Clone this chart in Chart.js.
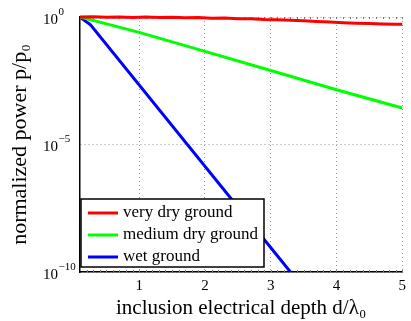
<!DOCTYPE html>
<html>
<head>
<meta charset="utf-8">
<script src="https://cdn.jsdelivr.net/npm/chart.js@4.4.1/dist/chart.umd.min.js"></script>
<style>
  html, body { margin: 0; padding: 0; background: #fff; }
  #wrap { width: 411px; height: 321px; position: relative; }
</style>
</head>
<body>
<div id="wrap"><canvas id="powerChart"></canvas></div>
<script>
// data
const seriesLabels = ["very dry ground", "medium dry ground", "wet ground"];
const seriesColors = ["#ff0000", "#00ff00", "#0000ff"];

const dryX = [0.1, 0.3, 0.5, 0.7, 0.9, 1.1, 1.3, 1.5, 1.7, 1.9, 2.1, 2.3, 2.5,
              2.7, 2.9, 3.1, 3.3, 3.5, 3.7, 3.9, 4.1, 4.3, 4.5, 4.7, 4.9, 5.0];
const dryY = [1.0, 1.02, 0.98, 1.0, 0.96, 0.99, 0.95, 0.98, 0.93, 0.95, 0.90, 0.92, 0.86,
              0.86, 0.80, 0.78, 0.74, 0.72, 0.67, 0.63, 0.60, 0.57, 0.55, 0.53, 0.52, 0.52];

const mediumX = [0.1, 1, 2, 3, 4, 5];
const mediumY = [1, 0.25, 0.045, 0.008, 0.0014, 0.00027];

const wetX = [0.1, 0.26, 3.3];
const wetY = [1, 0.49, 1e-10];

const xTicks = [1, 2, 3, 4, 5];
const yTicks = [1, 1e-5, 1e-10];
const yTickExp = ["0", "−5", "−10"];

const serif = "'Liberation Serif', 'DejaVu Serif', serif";

function pts(xs, ys) {
  return xs.map((x, i) => ({ x: x, y: ys[i] }));
}

// legend box inside the plot, bottom-left
const boxLegend = {
  id: "boxLegend",
  afterDraw(chart) {
    const ctx = chart.ctx;
    const a = chart.chartArea;
    const x0 = a.left + 1, y0 = 199, w = 183, h = 68;
    ctx.save();
    ctx.fillStyle = "#fff";
    ctx.fillRect(x0, y0, w, h);
    ctx.strokeStyle = "#000";
    ctx.lineWidth = 1.5;
    ctx.strokeRect(x0, y0, w, h);
    ctx.font = "17px " + serif;
    ctx.textBaseline = "middle";
    chart.data.datasets.forEach((ds, i) => {
      const yy = y0 + 14 + i * 22;
      ctx.strokeStyle = ds.borderColor;
      ctx.lineWidth = 3;
      ctx.beginPath();
      ctx.moveTo(x0 + 7, yy);
      ctx.lineTo(x0 + 37, yy);
      ctx.stroke();
      ctx.fillStyle = "#000";
      ctx.fillText(ds.label, x0 + 42, yy);
    });
    ctx.restore();
  }
};

// 10^n labels on the log axis, left aligned like the original
const powerLabels = {
  id: "powerLabels",
  afterDraw(chart) {
    const ctx = chart.ctx;
    const ys = chart.scales.y;
    ctx.save();
    ctx.fillStyle = "#000";
    ctx.textAlign = "left";
    ctx.textBaseline = "middle";
    yTicks.forEach((v, i) => {
      const py = ys.getPixelForValue(v);
      ctx.font = "15px " + serif;
      ctx.fillText("10", 43, py + 3);
      const w = ctx.measureText("10").width;
      ctx.font = "11px " + serif;
      ctx.fillText(yTickExp[i], 43 + w + 0.5, py - 5);
    });
    ctx.restore();
  }
};

// minor tick marks along top and bottom edges
const minorTicks = {
  id: "minorTicks",
  beforeDatasetsDraw(chart) {
    const ctx = chart.ctx;
    const a = chart.chartArea;
    const xs = chart.scales.x;
    ctx.save();
    ctx.strokeStyle = "#777";
    ctx.lineWidth = 1;
    for (let v = 0.2; v <= 5.001; v += 0.1) {
      const px = Math.round(xs.getPixelForValue(v)) + 0.5;
      ctx.beginPath();
      ctx.moveTo(px, a.bottom);
      ctx.lineTo(px, a.bottom - 2);
      ctx.moveTo(px, a.top);
      ctx.lineTo(px, a.top + 2);
      ctx.stroke();
    }
    ctx.restore();
  }
};

new Chart(document.getElementById("powerChart"), {
  type: "line",
  data: {
    datasets: [
      { label: seriesLabels[0], data: pts(dryX, dryY), borderColor: seriesColors[0], clip: 4 },
      { label: seriesLabels[1], data: pts(mediumX, mediumY), borderColor: seriesColors[1] },
      { label: seriesLabels[2], data: pts(wetX, wetY), borderColor: seriesColors[2] }
    ]
  },
  options: {
    responsive: true,
    maintainAspectRatio: false,
    animation: false,
    elements: {
      line: { borderWidth: 3, tension: 0 },
      point: { radius: 0 }
    },
    layout: { padding: { top: 17, right: 3, left: 0, bottom: 0 } },
    plugins: { legend: { display: false }, tooltip: { enabled: false } },
    scales: {
      x: {
        type: "linear",
        min: 0.1,
        max: 5,
        afterBuildTicks: s => { s.ticks = xTicks.map(v => ({ value: v })); },
        afterFit: s => { s.height = 49; },
        border: { display: true, color: "#000", width: 1.5, dash: [1, 3] },
        grid: { color: "#999", lineWidth: 1, drawTicks: false },
        ticks: { color: "#000", padding: 5, maxRotation: 0, font: { family: serif, size: 15 } },
        title: {
          display: true,
          text: "inclusion electrical depth d/λ₀",
          color: "#000",
          padding: { top: 0, bottom: 0 },
          font: { family: serif, size: 21 }
        }
      },
      y: {
        type: "logarithmic",
        min: 1e-10,
        max: 1,
        afterBuildTicks: s => { s.ticks = yTicks.map(v => ({ value: v })); },
        afterFit: s => { s.width = 80; },
        border: { display: true, color: "#000", width: 1.5, dash: [1, 3] },
        grid: { color: "#999", lineWidth: 1, drawTicks: false },
        ticks: { display: false },
        title: {
          display: true,
          text: "normalized power p/p₀",
          color: "#000",
          padding: { top: 7, bottom: 0 },
          font: { family: serif, size: 22 }
        }
      }
    }
  },
  plugins: [minorTicks, powerLabels, boxLegend]
});
</script>
</body>
</html>
